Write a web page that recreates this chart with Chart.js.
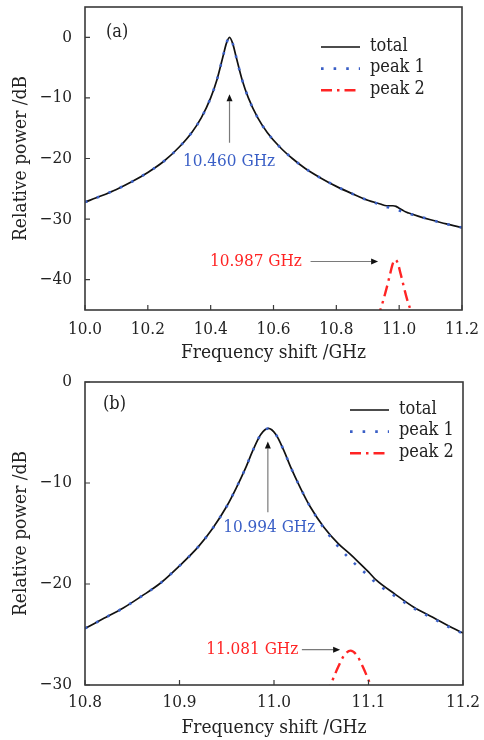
<!DOCTYPE html>
<html>
<head>
<meta charset="utf-8">
<script src="https://cdn.jsdelivr.net/npm/chart.js@4.4.1/dist/chart.umd.min.js"></script>
<style>
  html, body { margin: 0; padding: 0; background: #fff; }
  #wrap { position: relative; width: 484px; height: 740px; }
  .panel { position: absolute; left: 0; width: 484px; height: 370px; }
</style>
</head>
<body>
<div id="wrap">
  <div class="panel" style="top:0"><canvas id="chartA" width="484" height="370"></canvas></div>
  <div class="panel" style="top:370px"><canvas id="chartB" width="484" height="370"></canvas></div>
</div>
<script>
// ---- Panel (a): spectrum around 10.46 GHz ----
const freqA = [10.00, 10.05, 10.10, 10.15, 10.20, 10.25, 10.30, 10.34, 10.37, 10.40,
               10.42, 10.44, 10.45, 10.46, 10.47, 10.48, 10.50, 10.52, 10.55, 10.58,
               10.62, 10.66, 10.70, 10.75, 10.80, 10.85, 10.90, 10.94, 10.96, 10.97,
               10.98, 10.99, 11.00, 11.01, 11.02, 11.03, 11.06, 11.10, 11.15, 11.20];
const totalA = [-27.2, -26.2, -25.1, -23.8, -22.3, -20.5, -18.1, -15.7, -13.3, -10.0,
                -7.0, -3.0, -1.0, 0.0, -1.0, -3.0, -7.0, -10.0, -13.3, -15.7,
                -18.1, -20.0, -21.6, -23.2, -24.6, -25.8, -26.9, -27.5, -27.8, -27.8,
                -27.8, -27.9, -28.2, -28.5, -28.8, -29.0, -29.5, -30.1, -30.8, -31.4];
const peak1A = [-27.2, -26.2, -25.1, -23.8, -22.3, -20.5, -18.1, -15.7, -13.3, -10.0,
                -7.0, -3.0, -1.0, 0.0, -1.0, -3.0, -7.0, -10.0, -13.3, -15.7,
                -18.1, -20.0, -21.6, -23.2, -24.6, -25.8, -26.9, -27.6, -28.0, -28.1,
                -28.3, -28.5, -28.6, -28.8, -29.0, -29.1, -29.5, -30.1, -30.8, -31.4];
const freqA2 = [10.93, 10.94, 10.95, 10.96, 10.97, 10.98, 10.988, 10.995, 11.005, 11.015, 11.025, 11.035, 11.045];
const peak2A = [-46.4, -45.0, -43.3, -41.4, -39.3, -37.3, -36.7, -37.2, -39.1, -41.2, -43.2, -44.8, -46.3];
const xTicksA = [10.0, 10.2, 10.4, 10.6, 10.8, 11.0, 11.2];
const yTicksA = [-40, -30, -20, -10, 0];

// ---- Panel (b): spectrum around 10.99 GHz ----
const freqB = [10.80, 10.82, 10.84, 10.86, 10.88, 10.90, 10.92, 10.935, 10.95, 10.96,
               10.97, 10.978, 10.986, 10.994, 11.002, 11.010, 11.018, 11.028, 11.038, 11.053,
               11.068, 11.08, 11.088, 11.10, 11.108, 11.128, 11.148, 11.168, 11.188, 11.20];
const totalB = [-24.4, -23.4, -22.4, -21.2, -19.9, -18.2, -16.3, -14.5, -12.3, -10.5,
                -8.5, -6.7, -5.2, -4.6, -5.2, -6.7, -8.5, -10.5, -12.3, -14.4,
                -16.0, -17.0, -17.7, -18.8, -19.6, -21.0, -22.3, -23.3, -24.3, -24.85];
const peak1B = [-24.4, -23.4, -22.4, -21.2, -19.9, -18.2, -16.3, -14.5, -12.3, -10.5,
                -8.5, -6.7, -5.2, -4.6, -5.2, -6.7, -8.5, -10.5, -12.3, -14.5,
                -16.3, -17.5, -18.2, -19.2, -19.9, -21.2, -22.4, -23.4, -24.4, -24.9];
const freqB2 = [11.045, 11.055, 11.062, 11.068, 11.074, 11.081, 11.088, 11.094, 11.100, 11.107, 11.117];
const peak2B = [-33.1, -31.1, -29.5, -28.2, -27.1, -26.6, -27.1, -28.2, -29.5, -31.1, -33.1];
const xTicksB = [10.8, 10.9, 11.0, 11.1, 11.2];
const yTicksB = [-30, -20, -10, 0];

const FONT = "'DejaVu Serif Condensed', 'DejaVu Serif', serif";
const INK = '#222222';
const BLUE = '#3a5fc6';
const RED = '#ff2424';

const zip = (xs, ys) => xs.map((x, i) => ({ x: x, y: ys[i] }));
const minusFmt = v => (v < 0 ? '\u2212' + Math.abs(v) : String(v));

function arrow(ctx, x1, y1, x2, y2) {
  const ang = Math.atan2(y2 - y1, x2 - x1);
  const hl = 7, hw = 3;
  ctx.strokeStyle = '#7a7a7a';
  ctx.lineWidth = 1.2;
  ctx.beginPath();
  ctx.moveTo(x1, y1);
  ctx.lineTo(x2 - hl * Math.cos(ang), y2 - hl * Math.sin(ang));
  ctx.stroke();
  ctx.fillStyle = '#111';
  ctx.beginPath();
  ctx.moveTo(x2, y2);
  ctx.lineTo(x2 - hl * Math.cos(ang) + hw * Math.sin(ang), y2 - hl * Math.sin(ang) - hw * Math.cos(ang));
  ctx.lineTo(x2 - hl * Math.cos(ang) - hw * Math.sin(ang), y2 - hl * Math.sin(ang) + hw * Math.cos(ang));
  ctx.closePath();
  ctx.fill();
}

// Frame, inward tick marks, panel tag, legend and peak annotations
const decor = {
  id: 'decor',
  afterDatasetsDraw(chart, args, opts) {
    const { ctx, chartArea: a } = chart;
    const x = chart.scales.x, y = chart.scales.y;
    ctx.save();

    ctx.strokeStyle = '#3a3a3a';
    ctx.lineWidth = 1.6;
    ctx.strokeRect(a.left, a.top, a.right - a.left, a.bottom - a.top);

    ctx.lineWidth = 1.2;
    ctx.beginPath();
    x.ticks.forEach(t => {
      const px = x.getPixelForValue(t.value);
      ctx.moveTo(px, a.bottom); ctx.lineTo(px, a.bottom - 5);
    });
    y.ticks.forEach(t => {
      const py = y.getPixelForValue(t.value);
      ctx.moveTo(a.left, py); ctx.lineTo(a.left + 5, py);
    });
    ctx.stroke();

    ctx.font = '18px ' + FONT;
    ctx.fillStyle = INK;
    ctx.textBaseline = 'middle';
    ctx.textAlign = 'left';
    ctx.fillText(opts.tag, a.left + opts.tagDx, a.top + opts.tagDy);

    // legend
    ctx.font = '18px ' + FONT;
    chart.data.datasets.forEach((ds, i) => {
      const ly = a.top + opts.legDy + i * 21.6;
      const lx = a.left + opts.legDx;
      ctx.save();
      ctx.strokeStyle = ds.borderColor;
      ctx.lineWidth = ds.borderWidth;
      ctx.setLineDash(ds.borderDash || []);
      ctx.beginPath();
      ctx.moveTo(lx, ly); ctx.lineTo(lx + 39, ly);
      ctx.stroke();
      ctx.restore();
      ctx.fillStyle = INK;
      ctx.fillText(ds.label, lx + 49, ly - 1);
    });

    // annotations
    ctx.font = '17px ' + FONT;
    ctx.textAlign = 'center';
    opts.notes.forEach(n => {
      ctx.fillStyle = n.color;
      ctx.fillText(n.text, x.getPixelForValue(n.x), y.getPixelForValue(n.y));
    });
    opts.arrows.forEach(r => {
      arrow(ctx, x.getPixelForValue(r[0]), y.getPixelForValue(r[1]),
                 x.getPixelForValue(r[2]), y.getPixelForValue(r[3]));
    });
    ctx.restore();
  }
};

function makeChart(id, c) {
  const base = { showLine: true, pointRadius: 0, fill: false, cubicInterpolationMode: 'monotone' };
  return new Chart(document.getElementById(id), {
    type: 'scatter',
    data: {
      datasets: [
        Object.assign({}, base, { label: 'total', data: zip(c.freq, c.total), borderColor: '#111111', borderWidth: 1.7, order: 2 }),
        Object.assign({}, base, { label: 'peak 1', data: zip(c.freq, c.peak1), borderColor: BLUE, borderWidth: 2.6, borderDash: [2.6, 10], order: 1 }),
        Object.assign({}, base, { label: 'peak 2', data: zip(c.freq2, c.peak2), borderColor: RED, borderWidth: 2.4, borderDash: [11, 5, 2.5, 5], order: 0 })
      ]
    },
    options: {
      responsive: false,
      animation: false,
      events: [],
      layout: { padding: c.pad },
      plugins: { legend: { display: false }, tooltip: { enabled: false }, decor: c.decor },
      scales: {
        x: {
          type: 'linear', min: c.xMin, max: c.xMax,
          grid: { display: false, drawTicks: false },
          border: { display: false },
          afterBuildTicks: s => { s.ticks = c.xTicks.map(v => ({ value: v })); },
          afterFit: s => { s.height = c.xh; s.paddingLeft = 0; s.paddingRight = 0; },
          ticks: { padding: c.xTickPad, color: INK, font: { family: FONT, size: 17 }, maxRotation: 0, autoSkip: false, callback: v => v.toFixed(1) },
          title: { display: true, text: 'Frequency shift /GHz', color: INK, font: { family: FONT, size: 19 }, padding: { top: 0, bottom: c.xTitlePad } }
        },
        y: {
          type: 'linear', min: c.yMin, max: c.yMax,
          grid: { display: false, drawTicks: false },
          border: { display: false },
          afterBuildTicks: s => { s.ticks = c.yTicks.map(v => ({ value: v })); },
          afterFit: s => { s.width = 85; s.paddingTop = 0; s.paddingBottom = 0; },
          ticks: { padding: 13, color: INK, font: { family: FONT, size: 17 }, autoSkip: false, callback: minusFmt },
          title: { display: true, text: 'Relative power /dB', color: INK, font: { family: FONT, size: 19 }, padding: { top: 10, bottom: 0 } }
        }
      }
    },
    plugins: [decor]
  });
}

makeChart('chartA', {
  freq: freqA, total: totalA, peak1: peak1A, freq2: freqA2, peak2: peak2A,
  xTicks: xTicksA, yTicks: yTicksA, xMin: 10.0, xMax: 11.2, yMin: -45, yMax: 5,
  pad: { left: 0, right: 22, top: 7, bottom: 0 }, xh: 60, xTickPad: 9, xTitlePad: 6,
  decor: {
    tag: '(a)', tagDx: 21, tagDy: 25, legDx: 236, legDy: 40,
    notes: [
      { text: '10.460 GHz', color: BLUE, x: 10.4585, y: -20.5 },
      { text: '10.987 GHz', color: RED, x: 10.544, y: -37.0 }
    ],
    arrows: [
      [10.46, -17.4, 10.46, -9.4],
      [10.718, -37.0, 10.933, -37.0]
    ]
  }
});

makeChart('chartB', {
  freq: freqB, total: totalB, peak1: peak1B, freq2: freqB2, peak2: peak2B,
  xTicks: xTicksB, yTicks: yTicksB, xMin: 10.8, xMax: 11.2, yMin: -30, yMax: 0,
  pad: { left: 0, right: 21, top: 12, bottom: 0 }, xh: 55, xTickPad: 7, xTitlePad: 1,
  decor: {
    tag: '(b)', tagDx: 18, tagDy: 22, legDx: 265, legDy: 28,
    notes: [
      { text: '10.994 GHz', color: BLUE, x: 10.995, y: -14.4 },
      { text: '11.081 GHz', color: RED, x: 10.977, y: -26.5 }
    ],
    arrows: [
      [10.9935, -12.9, 10.9935, -5.9],
      [11.0295, -26.5, 11.070, -26.5]
    ]
  }
});
</script>
</body>
</html>
